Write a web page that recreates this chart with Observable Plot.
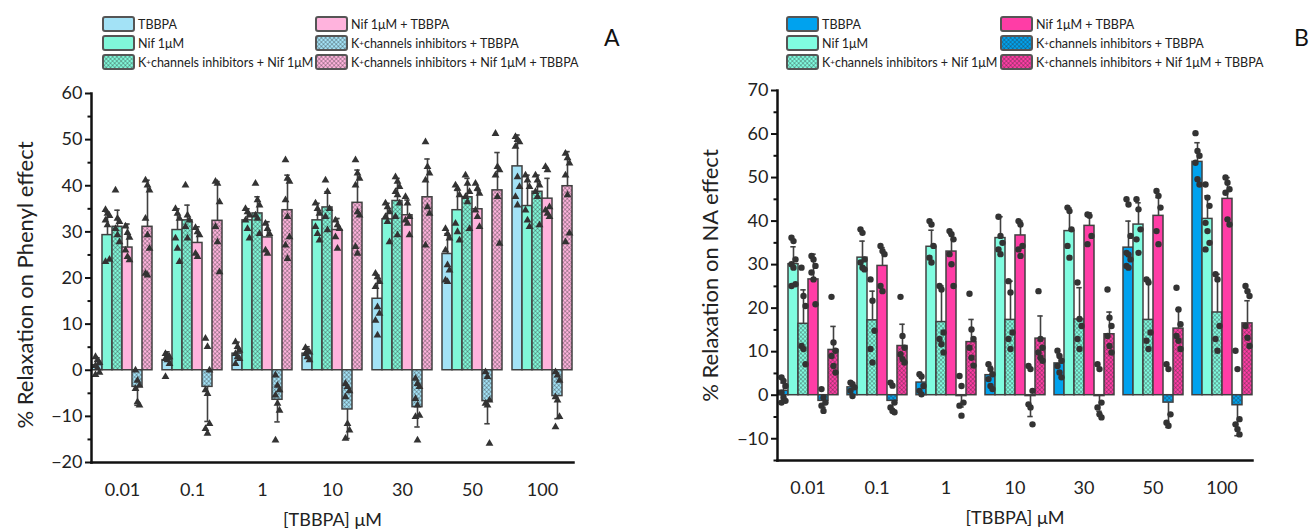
<!DOCTYPE html>
<html><head><meta charset="utf-8">
<script src="https://cdn.jsdelivr.net/npm/d3@7"></script>
<script src="https://cdn.jsdelivr.net/npm/@observablehq/plot@0.6"></script>
<style>
body{margin:0;background:#fff;font-family:Lato,"DejaVu Sans",sans-serif;}
#wrap{display:flex;width:1316px;height:529px;overflow:hidden;}
.col{width:658px;position:relative;}
.legend{position:relative;height:75px;}
.item{position:absolute;height:16px;display:flex;align-items:center;font-size:12.5px;color:#222;white-space:nowrap;}
.item svg{margin-right:3px;flex:none}
.item sup{font-size:8px;vertical-align:5px;line-height:0}
.letter{position:absolute;font-size:23px;line-height:23px;color:#111}
</style></head><body>
<svg width="0" height="0" style="position:absolute"><defs id="defs"></defs></svg>
<div id="wrap">
  <div class="col" id="colA"><div class="legend" id="legA"><div class="letter" style="left:604px;top:26px">A</div></div></div>
  <div class="col" id="colB"><div class="legend" id="legB"><div class="letter" style="left:636px;top:26px">B</div></div></div>
</div>
<script>
// ---------- data ----------
const concentrations = ["0.01", "0.1", "1", "10", "30", "50", "100"];
const seriesNames = [
  "TBBPA",
  "Nif 1μM",
  "K⁺channels inhibitors + Nif 1μM",
  "Nif 1μM + TBBPA",
  "K⁺channels inhibitors + TBBPA",
  "K⁺channels inhibitors + Nif 1μM + TBBPA"
];
const xTitle = "[TBBPA] μM";
const yTitleA = "% Relaxation on Phenyl effect";
const yTitleB = "% Relaxation on NA effect";
const yTicksA = [-20, -10, 0, 10, 20, 30, 40, 50, 60];
const yMinorA = [-15, -5, 5, 15, 25, 35, 45, 55];
const yTicksB = [-10, 0, 10, 20, 30, 40, 50, 60, 70];
const yMinorB = [-15, -5, 5, 15, 25, 35, 45, 55, 65];

// Panel A: means (rows = series, cols = concentrations)
const meanA = [
  [1.1, 2.2, 3.6, 3.6, 15.5, 25.2, 44.2],
  [29.3, 30.4, 32.5, 32.5, 32.7, 34.7, 35.6],
  [31.1, 32.5, 34.0, 35.3, 36.7, 37.5, 38.7],
  [26.6, 27.6, 28.8, 30.4, 33.6, 34.9, 37.2],
  [-3.6, -3.6, -6.4, -8.5, -8.0, -6.7, -5.6],
  [31.1, 32.4, 34.7, 36.3, 37.5, 39.0, 39.9]
];
const sdA = [
  [1.6, 1.8, 2.5, 1.5, 5.1, 4.4, 6.8],
  [5.0, 4.6, 2.5, 3.7, 3.5, 4.3, 6.7],
  [3.6, 3.3, 3.6, 3.4, 4.9, 4.1, 3.6],
  [5.1, 3.5, 3.4, 2.5, 3.3, 4.1, 4.4],
  [4.0, 7.5, 4.8, 6.3, 4.3, 4.9, 4.9],
  [10.1, 8.5, 7.6, 7.1, 8.3, 8.2, 7.5]
];
const pointsA = [
  [[2.9, 2.2, 1.6, 1.0, 0.5, -0.5, -1.0], [3.6, 3.2, 2.9, 2.5, 2.2, 1.4, -1.4], [6.1, 5.1, 4.3, 3.6, 2.9, 2.5, 1.4], [4.9, 4.3, 3.9, 3.6, 2.9, 2.2], [21.0, 20.2, 19.2, 18.1, 13.7, 12.3, 10.8, 7.6], [30.7, 29.6, 28.6, 26.0, 22.8, 21.7, 19.5, 19.2], [50.6, 50.0, 49.5, 48.5, 41.9, 39.8, 37.6, 35.8]],
  [[34.8, 34.0, 33.5, 32.5, 31.5, 24.0, 23.5], [35.0, 34.0, 32.9, 28.6, 26.4, 23.5], [35.0, 34.3, 33.6, 32.5, 30.7, 28.6], [36.2, 35.0, 34.0, 31.1, 29.6, 28.2], [36.2, 35.4, 34.3, 33.3, 32.2, 27.8], [40.1, 39.4, 38.0, 31.8, 30.0, 28.2], [42.3, 41.2, 39.8, 34.7, 32.5, 31.1]],
  [[39.0, 32.9, 32.2, 30.7, 29.3, 27.8], [40.1, 33.6, 32.5, 31.1, 28.6], [40.5, 36.9, 35.8, 33.6, 32.9, 29.6], [41.2, 38.7, 35.0, 33.3, 30.4], [41.9, 40.9, 39.8, 38.7, 38.0, 36.2, 33.3, 29.3], [42.3, 40.5, 38.7, 37.6, 36.5, 30.7], [42.3, 41.2, 40.1, 38.7, 37.6, 31.5]],
  [[31.2, 29.8, 28.8, 26.0, 24.6, 23.9], [30.9, 30.0, 29.3, 25.3, 24.6], [31.8, 30.7, 29.6, 26.0, 25.3], [32.5, 31.5, 30.7, 28.9, 26.4], [37.6, 36.2, 33.3, 32.5, 31.8, 29.3], [40.5, 39.4, 38.3, 34.7, 33.3, 31.1], [44.1, 43.4, 35.4, 34.7, 34.0, 33.3]],
  [[0.0, -2.2, -3.3, -4.0, -6.9, -7.6], [6.9, 5.1, 0.0, -4.3, -5.1, -11.6, -12.7, -13.7], [-1.1, -3.3, -4.3, -5.4, -7.2, -8.7, -15.2], [-2.9, -3.6, -4.5, -5.8, -11.6, -13.0, -14.8], [-1.8, -2.9, -3.6, -6.2, -7.6, -9.8, -10.1, -15.2], [-0.4, -1.4, -6.5, -7.2, -7.6, -15.9], [-0.4, -1.1, -2.2, -5.8, -6.5, -10.1, -12.3]],
  [[41.2, 40.1, 39.0, 32.9, 29.3, 26.4, 21.0, 20.6], [40.9, 40.5, 36.5, 31.1, 27.8, 21.3], [45.6, 41.6, 40.9, 36.9, 33.3, 28.9, 27.1, 24.2], [45.6, 42.7, 41.6, 40.1, 34.3, 33.6, 26.8, 25.3], [49.5, 44.1, 42.7, 41.2, 35.4, 34.0, 27.1], [51.3, 44.1, 43.4, 42.3, 37.6, 27.5], [47.0, 46.0, 44.9, 42.3, 38.0, 29.7, 27.8]]
];

// Panel B
const meanB = [
  [1.0, 1.8, 2.9, 4.6, 7.3, 33.9, 53.6],
  [30.1, 31.6, 34.1, 36.1, 37.7, 39.2, 40.5],
  [16.4, 17.2, 16.8, 17.3, 17.4, 17.3, 19.0],
  [26.6, 29.7, 33.0, 36.7, 38.9, 41.2, 45.1],
  [-1.3, -1.3, -0.2, -0.2, -0.2, -1.7, -2.3],
  [10.4, 11.3, 12.2, 13.0, 14.0, 15.3, 16.5]
];
const sdB = [
  [1.8, 1.0, 1.4, 2.0, 2.0, 6.1, 4.4],
  [4.0, 3.8, 3.8, 4.9, 5.3, 5.0, 5.3],
  [7.8, 6.7, 8.3, 8.9, 7.3, 9.3, 8.8],
  [5.8, 4.2, 4.0, 3.3, 3.0, 4.2, 4.9],
  [1.5, 1.8, 2.5, 4.7, 3.5, 5.7, 7.0],
  [5.4, 5.0, 5.2, 5.2, 5.1, 4.4, 5.2]
];
const pointsB = [
  [[4.1, 3.3, 2.1, 0.6, -0.5, -1.3, -1.7], [2.9, 2.5, 1.8, 1.0, -0.2], [4.8, 4.3, 2.1, 1.0, 0.2], [7.1, 6.0, 4.8, 3.7, 2.1, 1.4], [10.2, 9.0, 7.9, 6.7, 5.2, 4.1], [45.0, 43.8, 36.6, 32.7, 32.3, 31.2, 29.7, 29.3], [60.2, 56.1, 55.0, 53.4, 49.6, 48.4]],
  [[36.2, 35.4, 31.2, 30.1, 29.3, 25.5, 25.1], [38.1, 37.3, 31.2, 30.5, 29.3, 28.9], [40.0, 39.2, 34.3, 31.6, 30.5], [41.0, 36.6, 35.0, 33.5, 32.4], [43.1, 42.3, 38.1, 34.3, 31.6], [45.0, 42.7, 38.1, 35.8, 32.7], [48.4, 45.4, 43.5, 39.6, 37.7, 35.0, 33.5]],
  [[29.3, 22.8, 20.5, 11.3, 10.6, 7.1], [26.6, 21.7, 14.8, 10.6, 7.5], [25.1, 24.3, 14.4, 12.9, 11.7, 9.8], [26.2, 23.6, 14.4, 12.9, 10.6], [25.9, 17.5, 15.9, 12.9, 10.6], [26.6, 25.9, 14.4, 12.5, 10.6], [27.8, 26.6, 15.9, 12.9, 10.2]],
  [[32.0, 31.2, 29.7, 28.2, 26.6, 20.9], [34.3, 33.1, 32.4, 25.1, 23.9], [37.7, 37.0, 35.8, 32.4, 30.1, 25.1], [40.0, 39.2, 34.3, 33.5, 32.0], [41.5, 41.2, 36.6, 34.7], [46.9, 45.8, 43.1, 37.7, 34.7], [50.0, 48.8, 47.3, 46.5, 40.4, 39.2]],
  [[1.4, -0.5, -1.7, -2.4, -3.6], [2.9, 2.2, -1.7, -2.8, -3.6, -3.9], [4.4, 2.1, -1.7, -2.4, -4.7], [6.7, 6.0, 1.0, -2.1, -2.8, -6.7], [7.1, 6.0, -1.7, -2.8, -4.4, -5.1], [7.1, 6.0, -4.4, -6.3, -7.0], [10.2, 6.0, -5.5, -6.7, -7.8, -9.0]],
  [[22.6, 12.1, 10.2, 9.0, 6.7, 5.2], [22.6, 13.6, 10.9, 9.4, 8.3, 7.5], [23.3, 15.1, 12.9, 10.9, 8.6, 6.8], [23.9, 12.9, 10.9, 9.8, 8.6, 7.9], [24.3, 17.8, 15.9, 13.6, 11.3, 9.8], [24.7, 19.7, 16.3, 13.6, 12.5, 10.6], [25.1, 23.9, 22.8, 15.9, 13.2, 11.3]]
];

// ---------- styles ----------
const baseA = ["#a3e2f6", "#80f7d9", "#80f7d9", "#ffb3dd", "#a3e2f6", "#ffb3dd"];
const baseB = ["#00a2ee", "#80fce0", "#80fce0", "#ff3da6", "#00a2ee", "#ff3da6"];
const hatched = [false, false, true, false, true, true];

const defs = document.getElementById("defs");
function makeFills(key, bases) {
  return bases.map((c, i) => {
    if (!hatched[i]) return c;
    const id = `hatch${key}${i}`;
    defs.insertAdjacentHTML("beforeend",
      `<pattern id="${id}" width="3" height="3" patternUnits="userSpaceOnUse" patternTransform="rotate(45)">
         <rect width="3" height="3" fill="${c}"/>
         <path d="M0 0H3M0 0V3" stroke="#2a2a2a" stroke-width="0.8" stroke-opacity="0.8"/>
       </pattern>`);
    return `url(#${id})`;
  });
}
const fillsA = makeFills("A", baseA);
const fillsB = makeFills("B", baseB);

function legend(el, fills, colLeft) {
  seriesNames.forEach((s, i) => {
    const col = i < 3 ? 0 : 1, row = i % 3;
    const label = s.replace("K⁺", "K<sup>+</sup>");
    el.insertAdjacentHTML("beforeend",
      `<div class="item" style="left:${colLeft[col] - 1}px;top:${16 + row * 19}px">
        <svg width="33" height="16"><rect x="1" y="1" width="31" height="14" rx="2" fill="${fills[i]}" stroke="#555" stroke-width="2"/></svg>${label}</div>`);
  });
}
legend(document.getElementById("legA"), fillsA, [103, 316]);
legend(document.getElementById("legB"), fillsB, [129, 343]);

function rowsOf(means, sds) {
  const rows = [];
  seriesNames.forEach((s, si) => concentrations.forEach((c, ci) => {
    const v = means[si][ci], sd = sds[si][ci];
    rows.push({conc: c, series: s, value: v, end: v < 0 ? v - sd : v + sd});
  }));
  return rows;
}
function ptsOf(points) {
  const pts = [];
  seriesNames.forEach((s, si) => concentrations.forEach((c, ci) => {
    points[si][ci].forEach((v, i) => pts.push({conc: c, series: s, v, i}));
  }));
  return pts;
}

function panel(o) {
  const rows = rowsOf(o.means, o.sds);
  const pts = ptsOf(o.points);
  const ink = "#404040";
  return Plot.plot({
    width: 658, height: 454,
    marginTop: o.mt, marginBottom: o.mb, marginLeft: o.ml, marginRight: o.mr,
    style: {fontFamily: "Lato, 'DejaVu Sans', sans-serif", fontSize: "18px", color: "#222", background: "white", overflow: "visible"},
    fx: {domain: concentrations, paddingInner: 0.115, paddingOuter: o.po, tickSize: 0, tickPadding: 21, label: null},
    x: {domain: seriesNames, padding: 0, axis: null},
    y: {domain: o.yDomain},
    color: {type: "ordinal", domain: seriesNames, range: o.fills},
    marks: [
      Plot.barY(rows, {fx: "conc", x: "series", y: "value", fill: "series", stroke: ink, strokeWidth: 1.5}),
      Plot.ruleX(rows, {fx: "conc", x: "series", y1: "value", y2: "end", stroke: ink, strokeWidth: 1.6}),
      Plot.tickY(rows, {fx: "conc", x: "series", y: "end", stroke: ink, strokeWidth: 1.6, insetLeft: 2.3, insetRight: 2.3}),
      ...[-2, 0, 2].map((dx, k) => Plot.dot(pts, {fx: "conc", x: "series", y: "v", filter: d => d.i % 3 === k, dx, symbol: o.symbol, r: o.r, fill: "#333", stroke: "none"})),
      Plot.axisY({ticks: o.yTicks, tickSize: 6, tickPadding: 3, strokeWidth: 2, stroke: "#111", label: null}),
      Plot.axisY({ticks: o.yMinor, tickSize: 3.5, tickFormat: () => "", strokeWidth: 2, stroke: "#111", label: null}),
      Plot.frame({anchor: "left", facet: "super", stroke: "#111", strokeWidth: 2.5}),
      Plot.frame({anchor: "bottom", facet: "super", stroke: "#111", strokeWidth: 2.5}),
      Plot.text([o.yTitle], {frameAnchor: "left", textAnchor: "middle", dx: o.ydx, dy: o.ydy, rotate: -90, facet: "super", fontSize: 22, fill: "#222"}),
      Plot.text([xTitle], {frameAnchor: "bottom", textAnchor: "middle", dy: 63, facet: "super", fontSize: 18, fill: "#222"})
    ]
  });
}

document.getElementById("colA").appendChild(panel({
  means: meanA, sds: sdA, points: pointsA, fills: fillsA,
  yDomain: [-20, 60], yTicks: yTicksA, yMinor: yMinorA, yTitle: yTitleA,
  symbol: "triangle", r: 2.9,
  mt: 18, mb: 67, ml: 88, mr: 83, po: 0.02, ydx: -66, ydy: 7
}));
document.getElementById("colB").appendChild(panel({
  means: meanB, sds: sdB, points: pointsB, fills: fillsB,
  yDomain: [-15, 70], yTicks: yTicksB, yMinor: yMinorB, yTitle: yTitleB,
  symbol: "circle", r: 3.2,
  mt: 15, mb: 69, ml: 114, mr: 58, po: 0.03, ydx: -67, ydy: 0
}));
</script>
</body></html>
